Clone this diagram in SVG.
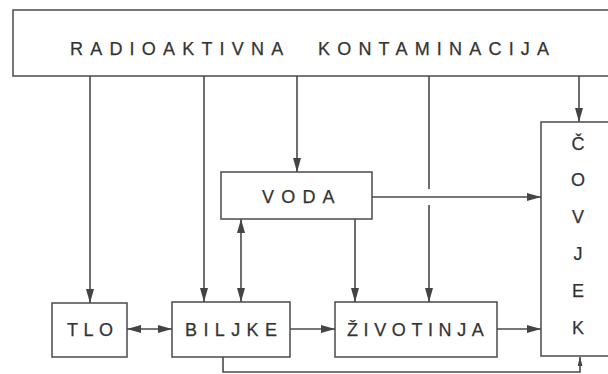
<svg xmlns="http://www.w3.org/2000/svg" width="608" height="374" viewBox="0 0 608 374">
<style>
.box{fill:#fff;stroke:#555;stroke-width:1.6}
.lbl{font-family:"Liberation Sans",Arial,sans-serif;font-size:18px;fill:#333;stroke:#333;stroke-width:0.25;letter-spacing:7.2px}
.cv{font-family:"Liberation Sans",Arial,sans-serif;font-size:18px;fill:#333;stroke:#333;stroke-width:0.25;text-anchor:middle}
.ln{fill:none;stroke:#4a4a4a;stroke-width:1.6}
</style>
<defs>
<marker id="ah" markerUnits="userSpaceOnUse" markerWidth="15" markerHeight="9" refX="14" refY="4" orient="auto-start-reverse">
<path d="M0,0 L14,4 L0,8 z" fill="#444"/>
</marker>
<marker id="ahs" markerUnits="userSpaceOnUse" markerWidth="10" markerHeight="6" refX="9" refY="2.5" orient="auto">
<path d="M0,0 L9,2.5 L0,5 z" fill="#444"/>
</marker>
</defs>
<rect width="608" height="374" fill="#fff"/>
<g id="kontaminacija">
<rect class="box" x="13" y="10" width="620" height="66"/>
<text class="lbl" y="55"><tspan x="70">RADIOAKTIVNA</tspan><tspan x="318">KONTAMINACIJA</tspan></text>
</g>
<g id="covjek">
<rect class="box" x="541" y="122" width="80" height="234"/>
<text class="cv" x="578" y="150">Č</text>
<text class="cv" x="578" y="186">O</text>
<text class="cv" x="578" y="223">V</text>
<text class="cv" x="578" y="260">J</text>
<text class="cv" x="578" y="297">E</text>
<text class="cv" x="578" y="334">K</text>
</g>
<g id="voda">
<rect class="box" x="221" y="172" width="151" height="47"/>
<text class="lbl" x="262" y="203">VODA</text>
</g>
<g id="tlo">
<rect class="box" x="52" y="303" width="75" height="54"/>
<text class="lbl" x="67" y="336" style="letter-spacing:5.5px">TLO</text>
</g>
<g id="biljke">
<rect class="box" x="172" y="302" width="118" height="55"/>
<text class="lbl" x="185" y="336" style="letter-spacing:6.4px">BILJKE</text>
</g>
<g id="zivotinja">
<rect class="box" x="335" y="302" width="162" height="55"/>
<text class="lbl" x="347" y="336" style="letter-spacing:5.6px">ŽIVOTINJA</text>
</g>
<g id="connectors">
<path class="ln" d="M90 76 V303" marker-end="url(#ah)"/>
<path class="ln" d="M204 76 V302" marker-end="url(#ah)"/>
<path class="ln" d="M297 76 V172" marker-end="url(#ah)"/>
<path class="ln" d="M429 76 V189 M429 205 V302" marker-end="url(#ah)"/>
<path class="ln" d="M579 76 V122" marker-end="url(#ah)"/>
<path class="ln" d="M372 197 H541" marker-end="url(#ah)"/>
<path class="ln" d="M241 219 V302" marker-start="url(#ah)" marker-end="url(#ah)"/>
<path class="ln" d="M355 219 V302" marker-end="url(#ah)"/>
<path class="ln" d="M127 329 H172" marker-start="url(#ah)" marker-end="url(#ah)"/>
<path class="ln" d="M290 329 H335" marker-end="url(#ah)"/>
<path class="ln" d="M497 329 H541" marker-end="url(#ah)"/>
<path class="ln" d="M223 357 V372 H580 V357" marker-end="url(#ahs)"/>
</g>
</svg>
